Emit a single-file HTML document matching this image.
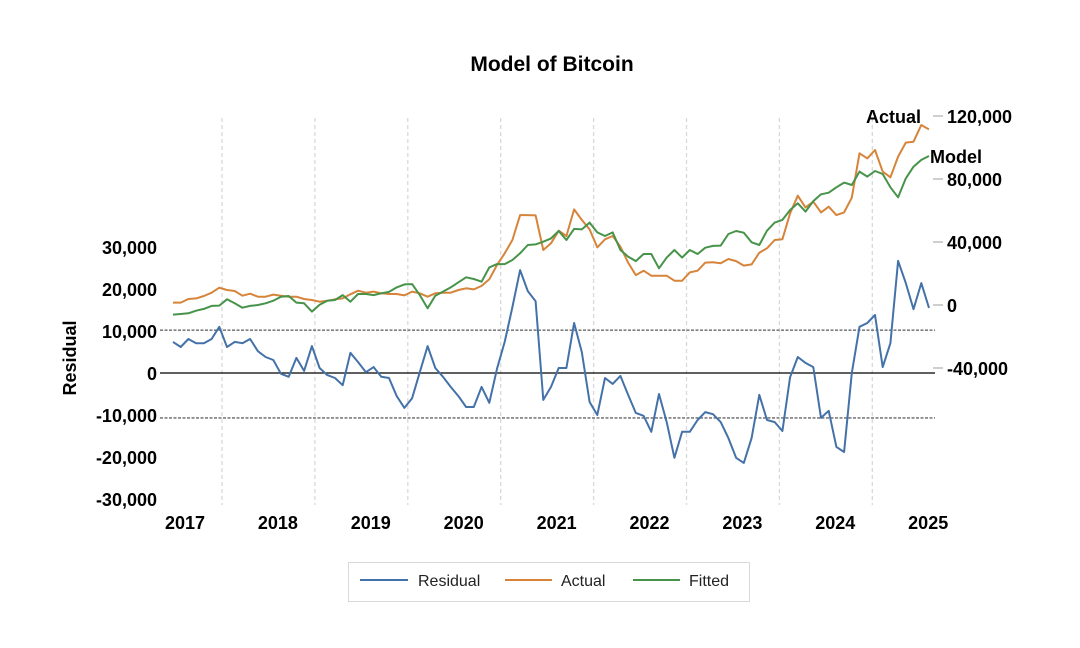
<!DOCTYPE html>
<html><head><meta charset="utf-8">
<style>
html,body{margin:0;padding:0;background:#fff;}
svg{display:block;font-family:"Liberation Sans",sans-serif;}
</style></head>
<body>
<svg id="chart" width="1080" height="648" viewBox="0 0 1080 648" xmlns="http://www.w3.org/2000/svg">
<text x="552" y="71" text-anchor="middle" font-size="21" font-weight="bold" fill="#000">Model of Bitcoin</text>
<g id="grid"></g>
<g id="axes"></g>
<g id="series"></g>
<text x="866" y="123" font-size="18" font-weight="bold" fill="#000">Actual</text>
<text x="930" y="163" font-size="18" font-weight="bold" fill="#000">Model</text>
<text transform="translate(76,358) rotate(-90)" text-anchor="middle" font-size="18" font-weight="bold" fill="#000">Residual</text>
<g>
<rect x="348.5" y="562.5" width="401" height="39" fill="#fff" stroke="#d9d9d9"/>
<g><line x1="360" y1="580" x2="408" y2="580" stroke="#4472a8" stroke-width="2"/><text x="418" y="586" font-size="16" fill="#222">Residual</text></g>
<g><line x1="505" y1="580" x2="552" y2="580" stroke="#d7843b" stroke-width="2"/><text x="561" y="586" font-size="16" fill="#222">Actual</text></g>
<g><line x1="633" y1="580" x2="680" y2="580" stroke="#47934a" stroke-width="2"/><text x="689" y="586" font-size="16" fill="#222">Fitted</text></g>
</g>
</svg>
<script>
const yearLabels=["2017","2018","2019","2020","2021","2022","2023","2024","2025"];
const leftTicks=[30000,20000,10000,0,-10000,-20000,-30000];
const rightTicks=[120000,80000,40000,0,-40000];
const bandUpper=10.2;
const bandLower=-10.7;
const residual=[7.4,6.2,8.1,7.1,7.1,8.1,11.0,6.2,7.4,7.1,8.1,5.2,3.8,3.1,-0.2,-0.9,3.6,0.5,6.4,1.2,-0.5,-1.2,-2.9,4.8,2.6,0.2,1.4,-0.9,-1.2,-5.5,-8.3,-6.0,0.2,6.4,1.2,-0.9,-3.3,-5.5,-8.1,-8.1,-3.3,-7.1,1.0,7.4,15.7,24.5,19.5,17.1,
-6.4,-3.3,1.2,1.2,11.9,5.0,-6.9,-10.0,-1.2,-2.6,-0.7,-5.2,-9.5,-10.2,-14.0,-5.0,-11.7,-20.2,-14.0,-14.0,-11.2,-9.3,-9.8,-11.7,-15.5,-20.2,-21.4,-15.5,-5.2,-11.2,-11.7,-13.8,-1.0,3.8,2.4,1.4,-10.7,-9.0,-17.6,-18.8,0,11.0,11.9,13.8,1.4,7.1,26.7,21.4,15.2,21.4,15.5];
const actual=[1.5,1.5,3.8,4.2,5.7,7.8,11.0,9.5,8.9,5.9,7.2,5.3,5.3,6.6,5.9,5.3,5.3,3.8,3.2,2.1,2.7,3.6,4.2,6.8,9.1,7.8,8.5,7.4,7.0,7.0,6.1,8.5,7.4,5.3,7.4,7.8,7.8,9.5,10.6,9.9,12.1,16.3,25.4,32.8,41.3,57.1,57.1,56.9,
34.9,39.2,47.2,43.8,60.7,54.0,48.0,36.6,41.7,43.8,37.0,26.9,19.0,21.8,18.6,18.6,18.6,15.4,15.4,20.7,21.8,26.9,27.1,26.5,29.2,27.9,25.0,25.8,33.2,36.0,41.3,41.7,58.2,69.4,62.0,65.6,58.8,62.4,57.1,58.8,68.1,96.3,93.1,98.4,84.7,81.1,94.2,103.1,103.7,114.3,111.5];
const fitted=[-6.1,-5.7,-5.3,-3.6,-2.5,-0.6,-0.4,3.6,1.1,-1.7,-0.6,0,1.1,2.7,5.3,5.7,1.5,1.1,-4.2,0.2,2.7,3.2,6.3,2.1,7.0,7.0,6.3,7.4,8.3,11.2,13.1,13.3,6.3,-2.1,5.9,8.5,11.2,14.4,17.6,16.5,14.8,23.9,26.0,26.0,28.6,32.8,38.1,38.5,
40.2,42.3,47.0,41.3,48.3,48.0,52.3,46.1,43.8,46.1,34.9,30.7,27.9,32.4,32.4,23.3,30.1,34.9,30.1,34.9,32.4,36.4,37.5,37.7,45.1,47.0,45.9,39.8,38.1,47.2,52.3,54.0,60.3,64.6,59.3,66.0,70.3,71.3,74.7,77.7,76.2,84.7,81.5,85.1,83.2,74.7,68.4,80.4,87.8,92.1,94.6];

const NS="http://www.w3.org/2000/svg";
const X0=160,X1=935;
function xIdx(i){return 173+i*7.714;}
function xYear(k){return 185+k*92.9;}
function yLeft(v){return 373-v*4.2;}
function yRight(v){return 305-v*1.575;}
function mk(tag,attrs,parent){const e=document.createElementNS(NS,tag);for(const k in attrs)e.setAttribute(k,attrs[k]);parent.appendChild(e);return e;}
const grid=document.getElementById('grid'),axes=document.getElementById('axes'),series=document.getElementById('series');

for(let k=0;k<8;k++){
  const gx=xYear(k)+37;
  const l=mk('line',{x1:gx,y1:118,x2:gx,y2:505,stroke:'#d9d9d9','stroke-width':1.3,'stroke-dasharray':'4 3'},grid);
  
  
}
[bandUpper,bandLower].forEach(v=>{
  const l=mk('line',{x1:X0,y1:yLeft(v),x2:X1,y2:yLeft(v),stroke:'#7f7f7f','stroke-width':1.6,'stroke-dasharray':'3 1.5'},grid);
  
  
});
const z=mk('line',{x1:X0,y1:yLeft(0),x2:X1,y2:yLeft(0),stroke:'#000','stroke-width':1.2},grid);



leftTicks.forEach(v=>{
  const t=mk('text',{x:157,y:yLeft(v/1000)+7,'text-anchor':'end','font-size':18,'font-weight':'bold',fill:'#000'},axes);
  t.textContent=v.toLocaleString('en-US');
  
  
});
rightTicks.forEach(v=>{
  const y=yRight(v/1000);
  const d=mk('line',{x1:933,y1:y,x2:943,y2:y,stroke:'#bfbfbf','stroke-width':1.5},axes);
  
  
  const t=mk('text',{x:947,y:y+7,'font-size':18,'font-weight':'bold',fill:'#000'},axes);
  t.textContent=v.toLocaleString('en-US');
  
  
});
yearLabels.forEach((s,k)=>{
  const t=mk('text',{x:xYear(k),y:529,'text-anchor':'middle','font-size':18,'font-weight':'bold',fill:'#000'},axes);
  t.textContent=s;
  
  
});
function line(arr,fy,color,name){
  const pts=arr.map((v,i)=>xIdx(i).toFixed(1)+','+fy(v).toFixed(1)).join(' ');
  const p=mk('polyline',{points:pts,fill:'none',stroke:color,'stroke-width':2,'stroke-linejoin':'round'},series);
  
  
}
line(actual,yRight,'#d7843b','actual-line');
line(fitted,yRight,'#47934a','fitted-line');
line(residual,yLeft,'#4472a8','residual-line');
</script>
</body></html>
